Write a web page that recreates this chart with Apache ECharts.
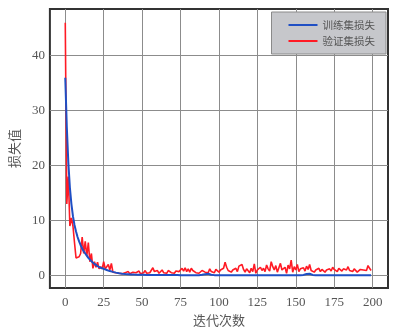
<!DOCTYPE html>
<html>
<head>
<meta charset="utf-8">
<script src="https://cdn.jsdelivr.net/npm/echarts@6/dist/echarts.min.js"></script>
<style>
  html, body { margin: 0; padding: 0; background: #fff; }
  #main { width: 402px; height: 332px; }
</style>
</head>
<body>
<div id="main"></div>
<script>
// 训练集损失（蓝线），按迭代次数 0..199
const trainLoss = [
  36, 27, 20.5, 16, 13, 10.8, 9.2, 8.0, 7.0, 6.2,
  5.5, 4.9, 4.4, 4.0, 3.6, 3.2, 2.9, 2.6, 2.3, 2.1,
  1.9, 1.7, 1.55, 1.4, 1.3, 1.2, 1.1, 1.0, 0.9, 0.8,
  0.72, 0.65, 0.58, 0.52, 0.46, 0.41, 0.37, 0.33, 0.3, 0.27,
  0.25, 0.23, 0.21, 0.19, 0.17, 0.16, 0.15, 0.14, 0.13, 0.12,
  0.11, 0.11, 0.1, 0.1, 0.1, 0.09, 0.09, 0.09, 0.09, 0.08,
  0.08, 0.08, 0.08, 0.08, 0.08, 0.07, 0.07, 0.07, 0.07, 0.07,
  0.07, 0.07, 0.07, 0.07, 0.06, 0.06, 0.06, 0.06, 0.06, 0.06,
  0.06, 0.06, 0.06, 0.06, 0.06, 0.06, 0.06, 0.06, 0.08, 0.12,
  0.18, 0.24, 0.28, 0.3, 0.22, 0.14, 0.08, 0.06, 0.06, 0.06,
  0.06, 0.05, 0.05, 0.05, 0.05, 0.05, 0.05, 0.05, 0.05, 0.05,
  0.05, 0.05, 0.05, 0.05, 0.05, 0.05, 0.05, 0.05, 0.05, 0.05,
  0.05, 0.05, 0.05, 0.05, 0.05, 0.05, 0.05, 0.05, 0.05, 0.05,
  0.05, 0.05, 0.05, 0.05, 0.05, 0.05, 0.05, 0.05, 0.05, 0.05,
  0.05, 0.05, 0.05, 0.05, 0.05, 0.05, 0.05, 0.05, 0.05, 0.05,
  0.05, 0.05, 0.05, 0.05, 0.06, 0.1, 0.18, 0.28, 0.35, 0.3,
  0.2, 0.1, 0.06, 0.05, 0.05, 0.05, 0.05, 0.05, 0.05, 0.05,
  0.05, 0.05, 0.05, 0.05, 0.05, 0.05, 0.05, 0.05, 0.05, 0.05,
  0.05, 0.05, 0.05, 0.05, 0.05, 0.05, 0.05, 0.05, 0.05, 0.05,
  0.05, 0.05, 0.05, 0.05, 0.05, 0.05, 0.05, 0.05, 0.05, 0.05
];

// 验证集损失（红线）
const valLoss = [
  46, 13, 18, 9, 10.5, 9, 6, 3.2, 3.2, 3.4,
  4, 7, 4, 6.2, 3.5, 6, 2.5, 4, 1.3, 2.5,
  1.5, 2.4, 1.2, 1.6, 1.2, 2.5, 1.2, 1.0, 2.0, 1.0,
  2.2, 0.6, 0.8, 0.5, 0.7, 0.4, 0.6, 0.3, 0.6, 0.5,
  0.4, 0.7, 0.3, 0.5, 0.6, 0.3, 0.5, 0.4, 0.8, 0.3,
  0.6, 0.5, 0.9, 0.4, 0.6, 0.5, 0.8, 1.4, 0.7, 0.5,
  0.9, 0.4, 0.6, 1.0, 0.5, 0.7, 0.4, 0.9, 0.6, 0.5,
  0.6, 0.4, 0.8, 0.5, 0.7, 0.6, 1.3, 0.8, 1.4, 0.7,
  1.2, 0.6, 1.3, 0.9, 1.1, 0.5, 0.8, 0.4, 0.6, 0.9,
  1.1, 0.6, 0.9, 0.5, 1.2, 0.7, 1.0, 0.5, 1.1, 0.8,
  0.6, 1.0, 0.7, 1.3, 2.4, 1.5, 0.9, 1.2, 0.6, 1.0,
  0.8, 1.3, 0.7, 1.7, 1.5, 2.0, 1.1, 0.6, 1.2, 0.9,
  0.5, 1.3, 0.7, 2.1, 0.4, 1.0, 0.8, 1.5, 0.9, 1.3,
  0.7, 1.9, 1.2, 0.8, 2.5, 1.6, 1.0, 1.8, 0.6, 1.4,
  2.2, 1.0, 0.8, 1.5, 0.4, 1.9, 1.2, 2.8, 0.6, 1.6,
  1.0, 2.0, 0.7, 1.2, 0.9, 1.4, 0.8, 1.7, 1.1, 2.0,
  0.9, 1.2, 0.6, 1.0, 0.8, 1.3, 0.7, 1.1, 0.9, 0.6,
  1.0, 0.7, 1.2, 0.8, 1.5, 1.1, 1.2, 0.7, 1.3, 1.0,
  0.8, 1.2, 0.9, 1.0, 1.6, 0.9, 1.1, 0.7, 1.2, 1.0,
  0.6, 0.9, 1.1, 0.8, 1.0, 0.7, 0.9, 1.8, 1.3, 0.9
];

// 坐标轴刻度
const xTicks = [0, 25, 50, 75, 100, 125, 150, 175, 200];
const yTicks = [0, 10, 20, 30, 40];

const numFont = "'Liberation Serif', 'DejaVu Serif', serif";
const cjkFont = "'Noto Sans CJK SC', sans-serif";

const chart = echarts.init(document.getElementById("main"), null, { renderer: "canvas" });

const gridLine = { show: true, lineStyle: { color: "#8c8c8c", width: 1 } };

chart.setOption({
  backgroundColor: "#fff",
  animation: false,
  grid: {
    left: 49, right: 14, top: 9, bottom: 37,
    show: true, borderColor: "#333", borderWidth: 2, backgroundColor: "transparent"
  },
  legend: {
    orient: "vertical",
    right: 16, top: 12,
    data: ["训练集损失", "验证集损失"],
    icon: "rect",
    itemWidth: 29, itemHeight: 2, itemGap: 2,
    padding: [6, 11, 6, 17],
    backgroundColor: "#c6c7cb",
    borderColor: "#8a8a8a", borderWidth: 1,
    textStyle: { fontFamily: cjkFont, fontSize: 10.5, color: "#555", lineHeight: 14 }
  },
  xAxis: {
    type: "value",
    min: -10, max: 210,
    name: "迭代次数",
    nameLocation: "middle", nameGap: 21,
    nameTextStyle: { fontFamily: cjkFont, fontSize: 13, color: "#555" },
    axisLine: { show: false },
    axisTick: { show: false, customValues: xTicks },
    axisLabel: { customValues: xTicks, fontFamily: numFont, fontSize: 13, color: "#555", margin: 8 },
    splitLine: gridLine
  },
  yAxis: {
    type: "value",
    min: -2.3, max: 48.5,
    name: "损失值",
    nameLocation: "middle", nameGap: 22, nameRotate: 90,
    nameTextStyle: { fontFamily: cjkFont, fontSize: 13, color: "#555" },
    axisLine: { show: false },
    axisTick: { show: false, customValues: yTicks },
    axisLabel: { customValues: yTicks, fontFamily: numFont, fontSize: 13, color: "#555", margin: 5 },
    splitLine: gridLine
  },
  series: [
    {
      name: "验证集损失",
      type: "line",
      data: valLoss.map((v, i) => [i, v]),
      showSymbol: false,
      lineStyle: { color: "#ff1a24", width: 1.6 },
      itemStyle: { color: "#ff1a24" },
      z: 2
    },
    {
      name: "训练集损失",
      type: "line",
      data: trainLoss.map((v, i) => [i, v]),
      showSymbol: false,
      lineStyle: { color: "#1f4fc4", width: 2 },
      itemStyle: { color: "#1f4fc4" },
      z: 3
    }
  ]
});
</script>
</body>
</html>
